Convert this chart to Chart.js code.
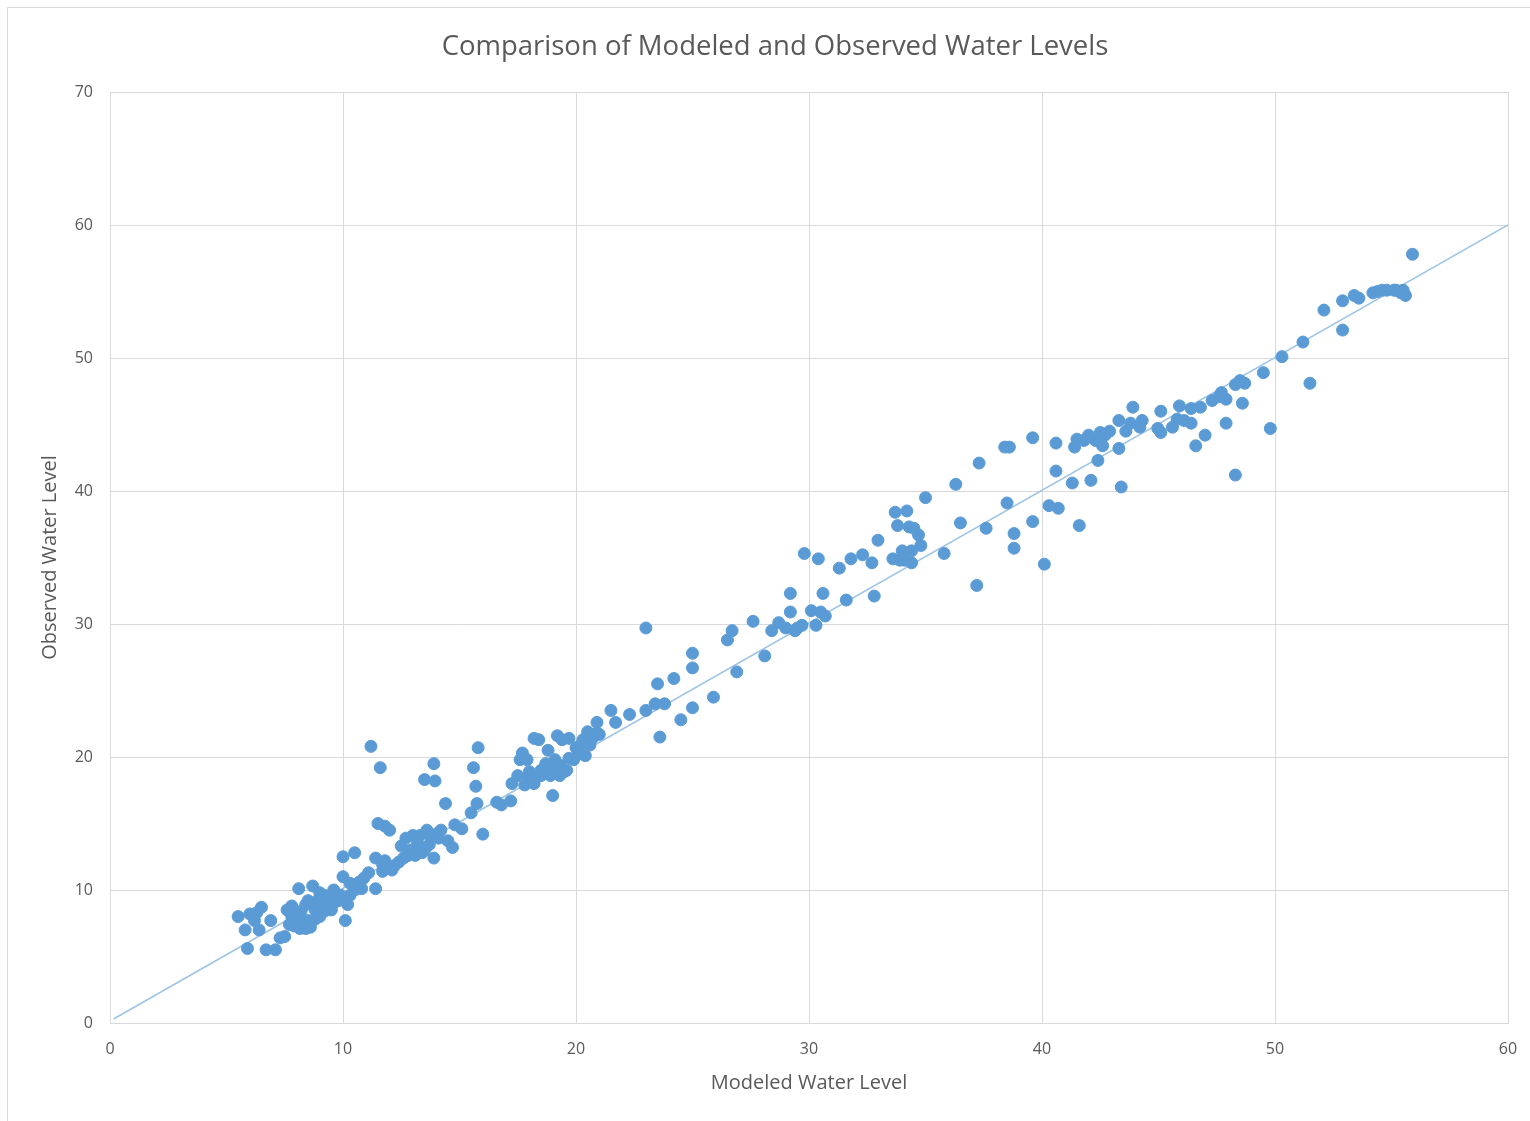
<!DOCTYPE html>
<html>
<head>
<meta charset="utf-8">
<script src="https://cdn.jsdelivr.net/npm/chart.js@4/dist/chart.umd.min.js"></script>
<style>
  html, body { margin: 0; padding: 0; background: #fff; overflow: hidden; }
  #frame {
    position: absolute; left: 7px; top: 7px;
    width: 1540px; height: 1130px;
    border: 1px solid #d9d9d9;
  }
  #wrap { position: absolute; left: 0; top: 0; width: 1532px; height: 1125px; }
</style>
</head>
<body>
<div id="frame"><div id="wrap"><canvas id="wlChart"></canvas></div></div>
<script>
// modeled (x) and observed (y) water levels
const modeled = [
  5.5, 5.8, 5.9, 6.0, 6.2, 6.3, 6.5, 6.4, 6.7, 6.9, 7.1, 7.3, 7.5, 7.6, 7.7, 7.8, 8.0, 8.1, 8.15, 8.3,
  8.4, 8.5, 8.6, 8.7, 8.8, 8.9, 9.0, 9.1, 9.2, 9.4, 9.5, 9.6, 9.8, 9.9, 10.0, 10.0, 10.1, 10.2, 10.3, 10.5,
  10.5, 10.7, 10.9, 11.1, 11.2, 11.4, 11.4, 11.5, 11.6, 11.7, 11.8, 11.8, 12.0, 12.1, 12.4, 12.6, 12.7, 12.9, 13.0, 13.1,
  13.2, 13.3, 13.5, 13.5, 13.6, 13.7, 13.9, 13.95, 13.9, 14.1, 14.2, 14.4, 14.5, 14.7, 14.8, 15.1, 15.5, 15.6, 15.7, 15.75,
  15.8, 16.0, 16.6, 16.8, 7.8, 8.2, 8.5, 8.8, 9.2, 9.6, 7.9, 8.4, 9.0, 10.3, 10.8, 11.7, 12.2, 12.8, 13.4, 13.8,
  14.0, 12.5, 13.2,
  17.2, 17.25, 17.5, 17.6, 17.7, 17.8, 17.9, 18.0, 18.2, 18.2, 18.4, 18.5, 18.7, 18.8, 18.9, 19.0, 19.1, 19.2, 19.3, 19.4,
  19.5, 19.7, 19.7, 19.9, 20.0, 20.2, 20.3, 20.4, 20.5, 20.6, 20.7, 20.9, 20.9, 18.0, 18.5, 19.0, 19.6, 20.1, 20.6, 21.0,
  19.3, 18.2, 21.5, 21.7, 22.3, 23.0, 23.0, 23.4, 23.5, 23.6, 23.8, 24.2, 24.5, 25.0, 25.0, 25.0, 25.9, 26.5, 26.7, 26.9,
  27.6, 28.1, 28.4, 28.7, 29.0, 29.2, 29.2, 29.4, 29.5, 29.7, 29.8, 30.1, 30.3, 30.4, 30.5, 30.6, 30.7, 31.3, 31.6, 31.8,
  32.3, 32.7, 32.8, 32.96, 33.6, 33.7, 33.8, 33.9, 34.0, 34.1, 34.2, 34.3, 34.4, 34.5, 34.4, 34.7, 34.8, 35.0, 35.8, 36.3,
  36.5, 37.2, 37.3, 37.6, 38.4, 38.6, 38.5, 38.8, 38.8, 39.6, 39.6, 40.1, 40.3, 40.6, 40.6, 40.7, 41.3, 41.4, 41.5, 41.6,
  41.8, 42.0, 42.1, 42.3, 42.4, 42.5, 42.6, 42.7, 42.9, 43.3, 43.3, 43.4, 43.6, 43.8, 43.9, 44.2, 44.3, 44.97, 45.1, 45.1,
  45.6, 45.8, 45.9, 46.1, 46.4, 46.4, 46.6, 46.8, 47.0, 47.3, 47.6, 47.7, 47.9, 47.9, 48.3, 48.3, 48.5, 48.6, 48.7, 49.5,
  49.8, 50.3, 51.2, 51.5, 52.1, 52.9, 52.9, 53.4, 53.6, 54.2, 54.4, 54.6, 54.8, 55.1, 55.2, 55.4, 55.5, 55.6, 55.9
];
const observed = [
  8.0, 7.0, 5.6, 8.2, 7.7, 8.3, 8.7, 7.0, 5.5, 7.7, 5.5, 6.4, 6.5, 8.5, 7.4, 8.0, 7.7, 10.1, 7.1, 7.5,
  8.9, 7.7, 7.2, 10.3, 8.5, 9.2, 8.0, 8.9, 9.6, 9.2, 8.5, 10.0, 9.2, 9.6, 11.0, 12.5, 7.7, 8.9, 9.6, 12.8,
  10.0, 10.6, 10.9, 11.3, 20.8, 12.4, 10.1, 15.0, 19.2, 11.9, 14.8, 12.2, 14.5, 11.5, 12.1, 12.4, 13.9, 13.0, 14.1, 12.6,
  13.5, 14.1, 18.3, 13.0, 14.5, 13.4, 19.5, 18.2, 12.4, 13.9, 14.5, 16.5, 13.7, 13.2, 14.9, 14.6, 15.8, 19.2, 17.8, 16.5,
  20.7, 14.2, 16.6, 16.4, 8.8, 8.4, 9.2, 7.8, 8.4, 9.0, 7.3, 7.1, 9.8, 10.5, 10.1, 11.4, 11.8, 12.6, 12.8, 13.9,
  14.2, 13.3, 12.8,
  16.7, 18.0, 18.6, 19.8, 20.3, 17.9, 19.8, 18.9, 21.4, 18.3, 21.3, 19.0, 19.5, 20.5, 18.6, 17.1, 19.8, 21.6, 19.4, 21.3,
  18.9, 19.9, 21.4, 19.8, 20.7, 20.9, 21.3, 20.1, 21.9, 20.9, 21.4, 22.6, 21.8, 18.5, 18.6, 19.2, 19.0, 20.2, 21.2, 21.7,
  18.6, 18.0, 23.5, 22.6, 23.2, 29.7, 23.5, 24.0, 25.5, 21.5, 24.0, 25.9, 22.8, 27.8, 26.7, 23.7, 24.5, 28.8, 29.5, 26.4,
  30.2, 27.6, 29.5, 30.1, 29.7, 30.9, 32.3, 29.5, 29.7, 29.9, 35.3, 31.0, 29.9, 34.9, 30.9, 32.3, 30.6, 34.2, 31.8, 34.9,
  35.2, 34.6, 32.1, 36.3, 34.9, 38.4, 37.4, 34.8, 35.5, 34.8, 38.5, 37.3, 35.5, 37.2, 34.6, 36.7, 35.9, 39.5, 35.3, 40.5,
  37.6, 32.9, 42.1, 37.2, 43.3, 43.3, 39.1, 36.8, 35.7, 44.0, 37.7, 34.5, 38.9, 43.6, 41.5, 38.7, 40.6, 43.3, 43.9, 37.4,
  43.8, 44.2, 40.8, 43.8, 42.3, 44.4, 43.4, 44.2, 44.5, 43.2, 45.3, 40.3, 44.5, 45.1, 46.3, 44.8, 45.3, 44.7, 44.4, 46.0,
  44.8, 45.4, 46.4, 45.3, 46.2, 45.1, 43.4, 46.3, 44.2, 46.8, 47.1, 47.4, 46.9, 45.1, 48.0, 41.2, 48.3, 46.6, 48.1, 48.9,
  44.7, 50.1, 51.2, 48.1, 53.6, 52.1, 54.3, 54.7, 54.5, 54.9, 55.0, 55.1, 55.1, 55.1, 55.1, 54.9, 55.1, 54.7, 57.8
];
// 1:1 reference line
const lineX = [0.15, 60];
const lineY = [0.3, 60];

const points = modeled.map((x, i) => ({ x: x, y: observed[i] }));
const linePts = lineX.map((x, i) => ({ x: x, y: lineY[i] }));

const textColor = '#595959';
const gridColor = '#d9d9d9';
const font = '"Open Sans", Lato, "Liberation Sans", sans-serif';

const ctx = document.getElementById('wlChart').getContext('2d');
new Chart(ctx, {
  type: 'scatter',
  data: {
    datasets: [
      {
        label: 'Observed',
        data: points,
        backgroundColor: '#5b9bd5',
        borderColor: '#5b9bd5',
        borderWidth: 1,
        pointRadius: 6,
        order: 0
      },
      {
        type: 'line',
        label: '1:1',
        data: linePts,
        borderColor: '#9dc3e6',
        borderWidth: 1.5,
        pointRadius: 0,
        fill: false,
        order: 1
      }
    ]
  },
  options: {
    responsive: true,
    maintainAspectRatio: false,
    animation: false,
    layout: { padding: { left: 34, right: 32, top: 0, bottom: 38 } },
    plugins: {
      legend: { display: false },
      tooltip: { enabled: false },
      title: {
        display: true,
        text: 'Comparison of Modeled and Observed Water Levels',
        color: textColor,
        font: { family: font, size: 27.5, weight: 'normal' },
        padding: { top: 23, bottom: 28 }
      }
    },
    scales: {
      x: {
        type: 'linear',
        min: 0, max: 60,
        ticks: { stepSize: 10, color: textColor, font: { family: font, size: 16 }, padding: 17 },
        grid: { color: gridColor, drawTicks: false },
        border: { color: gridColor },
        title: {
          display: true, text: 'Modeled Water Level', color: textColor,
          font: { family: font, size: 20 }, padding: { top: 0, bottom: 0 }
        },
        afterFit: (scale) => { scale.height = 72; }
      },
      y: {
        min: 0, max: 70,
        ticks: { stepSize: 10, color: textColor, font: { family: font, size: 16 }, padding: 17 },
        grid: { color: gridColor, drawTicks: false },
        border: { color: gridColor },
        title: {
          display: true, text: 'Observed Water Level', color: textColor,
          font: { family: font, size: 20 }, padding: { top: -4, bottom: 0 }
        },
        afterFit: (scale) => { scale.width = 68; }
      }
    }
  }
});
</script>
</body>
</html>
